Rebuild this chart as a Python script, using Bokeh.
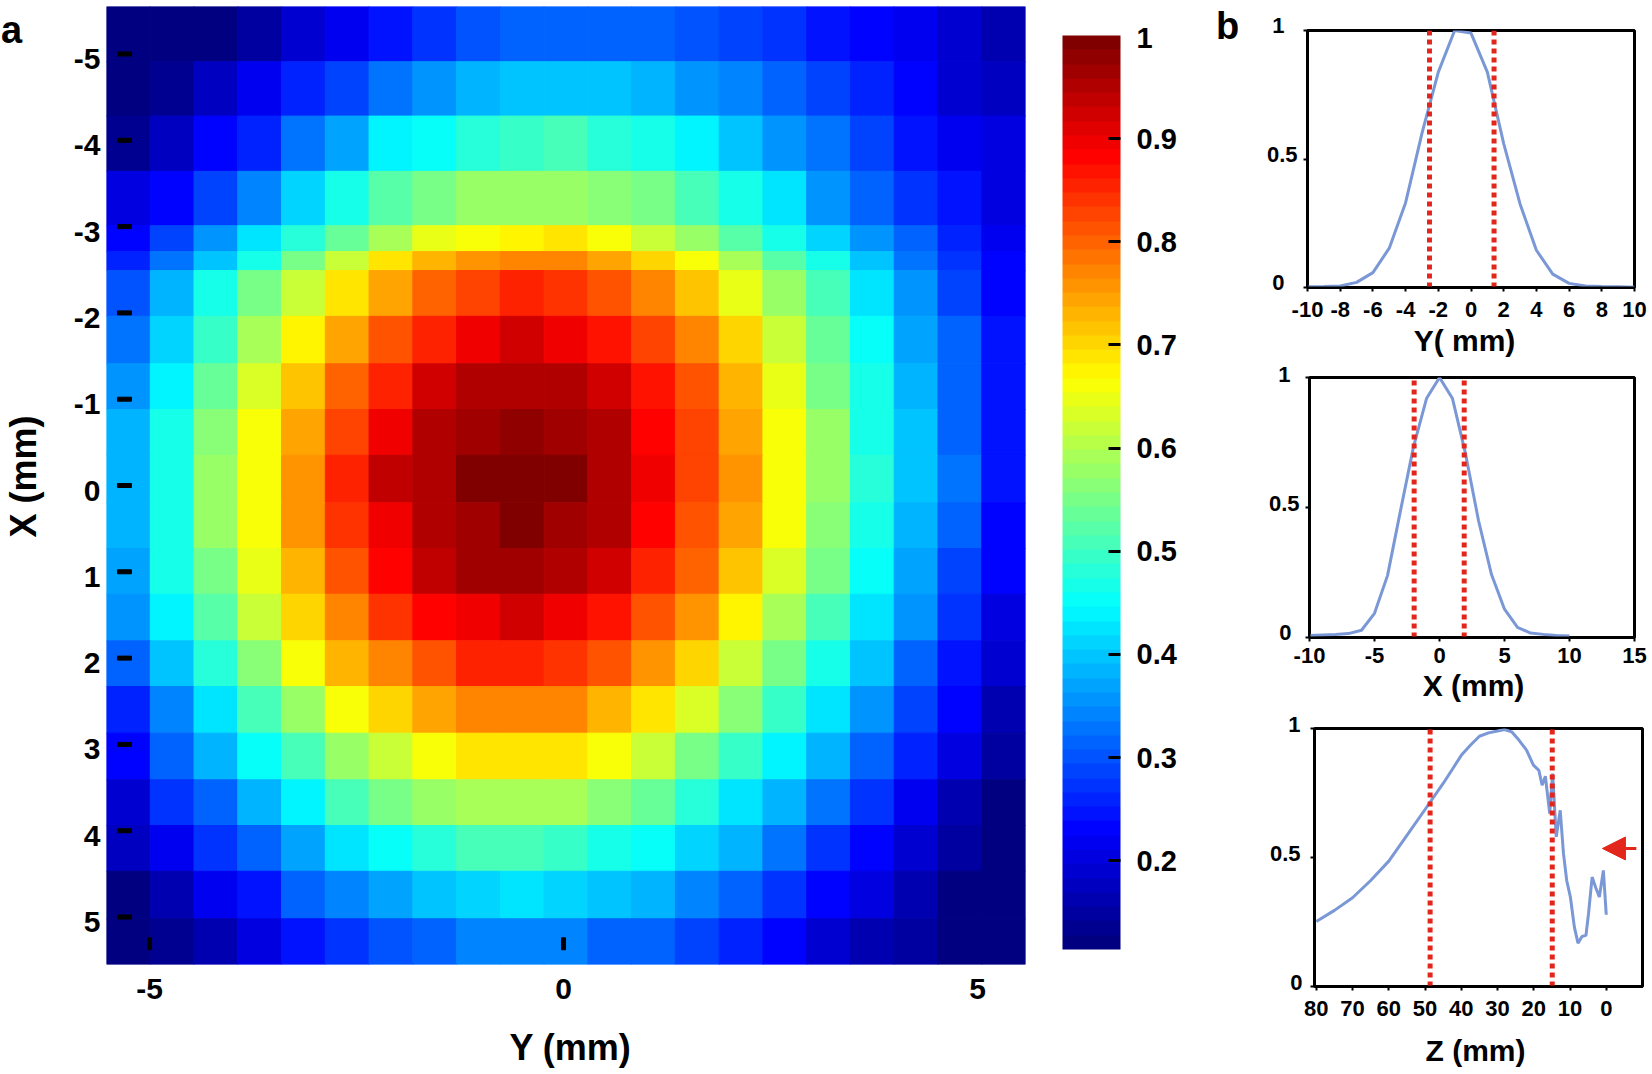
from bokeh.plotting import figure
from bokeh.layouts import row, column
from bokeh.models import (Range1d, FixedTicker, ColorBar, LinearColorMapper, Label, Arrow,
                          NormalHead, ColumnDataSource)
from bokeh.transform import linear_cmap
from bokeh.embed import file_html
from bokeh.resources import INLINE
import numpy as np

# ---------- data ----------
HEAT = [
 [.11,.11,.11,.152,.193,.22,.248,.276,.304,.318,.318,.318,.318,.304,.29,.276,.248,.234,.22,.194,.166],
 [.11,.14,.18,.22,.262,.29,.332,.36,.388,.402,.402,.402,.388,.36,.346,.318,.29,.262,.225,.194,.17],
 [.14,.18,.234,.262,.332,.374,.444,.458,.486,.5,.514,.486,.472,.444,.402,.36,.332,.29,.248,.22,.208],
 [.208,.23,.29,.346,.416,.472,.528,.555,.583,.583,.583,.569,.555,.514,.472,.43,.36,.318,.276,.248,.208],
 [.23,.29,.36,.43,.486,.54,.597,.653,.666,.68,.686,.666,.625,.583,.528,.472,.416,.36,.318,.262,.22],
 [.262,.332,.402,.472,.555,.625,.694,.736,.763,.777,.777,.75,.708,.666,.597,.528,.472,.402,.332,.276,.234],
 [.304,.388,.472,.555,.625,.694,.75,.805,.833,.861,.847,.819,.777,.722,.653,.583,.514,.43,.36,.29,.234],
 [.332,.416,.5,.597,.68,.75,.819,.861,.903,.917,.903,.875,.833,.777,.708,.625,.54,.458,.374,.318,.248],
 [.36,.444,.54,.639,.722,.805,.861,.917,.945,.958,.945,.917,.875,.819,.736,.653,.555,.472,.388,.318,.248],
 [.388,.472,.569,.666,.75,.833,.903,.945,.972,.986,.972,.945,.889,.833,.75,.666,.583,.472,.402,.318,.248],
 [.388,.472,.583,.666,.763,.861,.931,.958,1,1,1,.958,.903,.833,.763,.666,.583,.486,.402,.332,.248],
 [.388,.472,.583,.666,.763,.847,.903,.958,.972,1,.972,.945,.889,.819,.75,.666,.569,.472,.388,.318,.234],
 [.374,.472,.555,.653,.736,.819,.889,.931,.972,.972,.945,.917,.861,.805,.722,.639,.555,.458,.374,.29,.234],
 [.36,.444,.528,.625,.708,.777,.847,.889,.903,.917,.903,.875,.819,.763,.68,.597,.514,.43,.36,.276,.208],
 [.318,.402,.486,.569,.666,.736,.777,.819,.861,.861,.847,.819,.763,.708,.625,.555,.472,.402,.318,.248,.194],
 [.262,.346,.43,.514,.583,.666,.708,.75,.777,.777,.777,.736,.694,.639,.569,.5,.43,.36,.29,.23,.166],
 [.234,.318,.388,.458,.514,.583,.625,.666,.694,.694,.694,.666,.625,.555,.5,.444,.388,.318,.262,.208,.152],
 [.194,.276,.318,.388,.444,.514,.555,.583,.597,.597,.597,.569,.54,.486,.43,.388,.332,.276,.22,.166,.125],
 [.17,.22,.276,.318,.374,.43,.458,.486,.514,.514,.5,.472,.458,.416,.388,.332,.276,.234,.194,.152,.115],
 [.125,.166,.22,.248,.318,.346,.374,.402,.416,.43,.416,.402,.388,.346,.318,.276,.234,.208,.166,.125,.115],
 [.125,.14,.166,.208,.248,.276,.304,.318,.346,.346,.346,.318,.318,.29,.262,.234,.19,.16,.145,.115,.115],
]
ROW_EDGES_MM = [-5.55,-4.91,-4.28,-3.64,-3.01,-2.71,-2.49,-1.96,-1.41,-.88,-.35,.2,.73,1.26,1.8,2.33,2.87,3.41,3.94,4.47,5.02,5.55]
COL_START_MM, COL_END_MM = -5.52, 5.58
HEAT_TICKS = [-5,-4,-3,-2,-1,0,1,2,3,4,5]
HEAT_BOTTOM_TICKS = [-5,0,5]
HEAT_BOTTOM_MARKS = [-5,0]
BAR_TICKS = [.2,.3,.4,.5,.6,.7,.8,.9]

Y_POS = list(range(-10,11))
Y_PROFILE = [.003,.004,.006,.02,.058,.153,.33,.6,.838,1.0,.99,.838,.56,.325,.145,.052,.016,.006,.004,.003,.001]
Y_FWHM = [-2.54,1.41]
X_POS = list(range(-10,11))
X_PROFILE = [.008,.010,.012,.015,.028,.093,.238,.488,.733,.919,1.0,.919,.707,.45,.242,.109,.039,.017,.012,.008,.006]
X_FWHM = [-1.95,1.9]
Z_POS = [80,75,70,65,60,55,50,45,42.5,40,37.5,35,32.5,30,28.1,26.1,24.1,22,20.1,18.6,17.7,16.8,15.6,14.8,13.8,12.7,11.8,10.9,9.9,8.8,7.8,6.7,5.6,4.9,3.9,2.9,1.9,.8,0]
Z_PROFILE = [.252,.295,.344,.411,.486,.586,.686,.787,.841,.896,.935,.97,.983,.99,.996,.987,.955,.916,.858,.838,.78,.815,.67,.825,.58,.683,.515,.41,.347,.23,.168,.194,.198,.282,.424,.383,.347,.45,.278]
Z_FWHM = [48.6,14.9]

FONT = "Liberation Sans"
LINE = "#7a97d6"
RED = "#e3261b"

def jet(n):
    out = []
    for i in range(n):
        t = i/(n-1)
        c = [np.clip(min(4*t-s, -4*t+e),0,1) for s,e in ((1.5,4.5),(.5,3.5),(-.5,2.5))]
        out.append("#%02x%02x%02x" % tuple(int(round(v*255)) for v in c))
    return out
PAL = jet(64)
LOW, HIGH = .114, 1.0

# ---------- panel a ----------
a = figure(width=1200, height=1074, output_backend="svg", toolbar_location=None, frame_align=False,
           x_range=Range1d(COL_START_MM, COL_END_MM), y_range=Range1d(5.55,-5.55),
           min_border_left=106, min_border_right=175, min_border_top=6, min_border_bottom=110)
a.grid.visible = False
a.outline_line_color = None
cols = np.linspace(COL_START_MM, COL_END_MM, 22)
h = np.array(HEAT)
xx, yy = np.meshgrid(np.arange(21), np.arange(21))
src = ColumnDataSource(dict(l=cols[xx.ravel()], r=cols[xx.ravel()+1],
                            t=np.array(ROW_EDGES_MM)[yy.ravel()], b=np.array(ROW_EDGES_MM)[yy.ravel()+1],
                            v=h.ravel()))
cm = linear_cmap("v", PAL, LOW, HIGH)
a.quad(left="l", right="r", top="t", bottom="b", source=src, fill_color=cm, line_color=cm, line_width=1)
a.rect(x=[-5.303]*len(HEAT_TICKS), y=HEAT_TICKS, width=14, height=4, width_units="screen", height_units="screen", color="black")
a.rect(x=HEAT_BOTTOM_MARKS, y=[5.31]*len(HEAT_BOTTOM_MARKS), width=4, height=12, width_units="screen", height_units="screen", color="black")
a.yaxis.visible = False
ax = a.xaxis[0]
ax.ticker = FixedTicker(ticks=HEAT_BOTTOM_TICKS)
ax.major_label_overrides = {t:str(t) for t in HEAT_BOTTOM_TICKS}
ax.major_tick_in = 0; ax.major_tick_out = 0; ax.minor_tick_out = 0; ax.minor_tick_in = 0
ax.axis_line_color = None
ax.major_label_standoff = 14
ax.major_label_text_font = FONT; ax.major_label_text_font_style = "bold"; ax.major_label_text_font_size = "30px"; ax.major_label_text_color="black"
mapper = LinearColorMapper(palette=PAL, low=LOW, high=HIGH)
cb = ColorBar(color_mapper=mapper, ticker=FixedTicker(ticks=BAR_TICKS), width=58, height=914,
              location=(956, 15), padding=0, margin=0, major_tick_in=12, major_tick_out=0,
              major_tick_line_color="black", major_tick_line_width=3, minor_tick_line_color=None,
              bar_line_color=None, border_line_color=None, background_fill_color=None,
              label_standoff=16, major_label_text_font=FONT, major_label_text_font_style="bold",
              major_label_text_font_size="29px", major_label_text_color="black",
              major_label_overrides={t:f"{t:g}" for t in BAR_TICKS})
a.add_layout(cb)

# ---------- panels b ----------
def profile(height, xr, xticks, xpos, vals, fwhm, bl, br, bt, bb, std=11):
    p = figure(width=452, height=height, output_backend="svg", toolbar_location=None, frame_align=False,
               x_range=Range1d(*xr), y_range=Range1d(0,1),
               min_border_left=bl, min_border_right=br, min_border_top=bt, min_border_bottom=bb)
    p.grid.visible = False
    p.outline_line_color = "black"; p.outline_line_width = 3
    p.line(xpos, vals, line_color=LINE, line_width=3)
    for f in fwhm:
        p.segment([f],[0],[f],[1], line_color=RED, line_width=5, line_dash="5 4")
    x = p.xaxis[0]
    x.ticker = FixedTicker(ticks=xticks)
    x.major_label_overrides = {t:str(t) for t in xticks}
    x.major_tick_in = 0; x.major_tick_out = 4; x.minor_tick_out = 0; x.minor_tick_in = 0
    x.major_tick_line_color="black"; x.major_tick_line_width=2; x.axis_line_color="black"; x.axis_line_width=2
    x.major_label_standoff = std
    x.major_label_text_font = FONT; x.major_label_text_font_style = "bold"; x.major_label_text_font_size = "22px"; x.major_label_text_color="black"
    y = p.yaxis[0]
    y.ticker = FixedTicker(ticks=[0,.5,1])
    y.major_tick_in = 0; y.major_tick_out = 4; y.minor_tick_out = 0; y.minor_tick_in = 0
    y.major_tick_line_color="black"; y.major_tick_line_width=2; y.axis_line_color="black"; y.axis_line_width=2
    y.major_label_overrides = {0:"", .5:"", 1:""}
    return p

b1 = profile(358, (-10,10), list(range(-10,11,2)), Y_POS, Y_PROFILE, Y_FWHM, 107, 18, 30, 71, std=10)
b2 = profile(350, (-10,15), [-10,-5,0,5,10,15], X_POS, X_PROFILE, X_FWHM, 109, 18, 19, 71, std=6)
b3 = profile(366, (80.5,-10), list(range(80,-1,-10)), Z_POS, Z_PROFILE, Z_FWHM, 114, 10, 20, 88, std=10)
b3.add_layout(Arrow(end=NormalHead(size=23, fill_color=RED, line_color=RED), x_start=-8.3, y_start=.535, x_end=1.05, y_end=.535, line_color=RED, line_width=3))

# ---------- text layer over the whole page (labels are clipped to a frame) ----------
ov = figure(width=1652, height=1074, output_backend="svg", toolbar_location=None, frame_align=False,
            x_range=Range1d(0,1652), y_range=Range1d(1074,0), min_border=0,
            background_fill_color=None, border_fill_color=None, outline_line_color=None,
            styles={"position":"absolute","left":"0px","top":"0px","pointer-events":"none"})
ov.axis.visible = False
ov.grid.visible = False

def tl(x, y, text, size, align="center", angle=0):
    ov.add_layout(Label(x=x, y=y, text=text, text_font=FONT, text_font_style="bold",
                        text_font_size=f"{size}px", text_color="black", text_align=align,
                        text_baseline="middle", angle=angle, angle_units="deg"))

for t in HEAT_TICKS:
    tl(100, 490+86.3*t, str(t), 30, align="right")
tl(23, 476, "X (mm)", 36, angle=90)
tl(570, 1047, "Y (mm)", 36)
tl(11, 29, "a", 38)
tl(1227, 25, "b", 38)
tl(1136, 37, "1", 29, align="left")
for (x0, y0, dy, rights, ) in ((0, 282, 128.5, (1284,1297,1284)), (0, 632, 129, (1291,1299,1290)), (0, 982, 129, (1302,1300,1300))):
    for i, v in enumerate((0,.5,1)):
        tl(rights[i], y0-dy*i, f"{v:g}", 22, align="right")
tl(1464, 340, "Y( mm)", 30)
tl(1473, 685, "X (mm)", 30)
tl(1475, 1050, "Z (mm)", 30)

root = row(a, column(b1, b2, b3, spacing=0), ov, spacing=0)
open("out.html", "w").write(file_html(root, INLINE))
